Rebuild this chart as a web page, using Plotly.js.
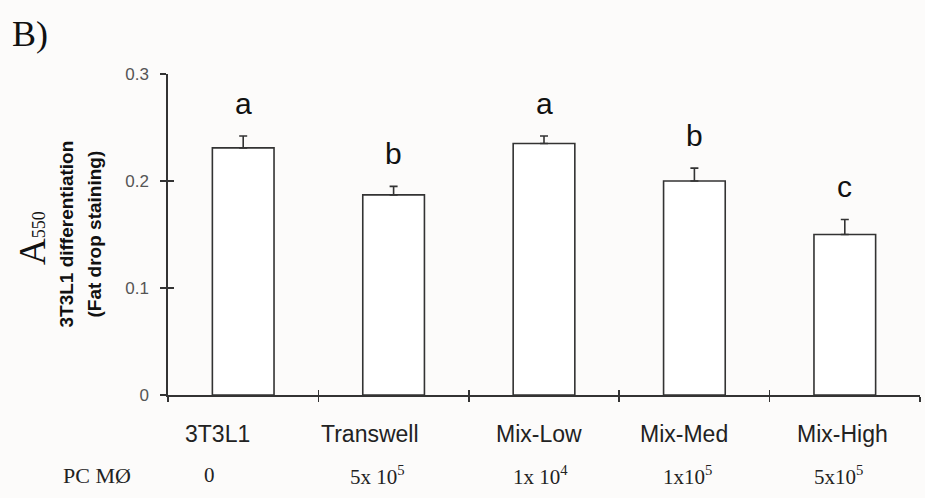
<!DOCTYPE html>
<html>
<head>
<meta charset="utf-8">
<script src="https://cdn.plot.ly/plotly-3.0.1.min.js"></script>
<style>html,body{margin:0;padding:0;background:#fcfbfa;}#chart{width:925px;height:498px;}</style>
</head>
<body>
<div id="chart"></div>
<script>
const categories = ['3T3L1', 'Transwell', 'Mix-Low', 'Mix-Med', 'Mix-High'];
const values = [0.231, 0.187, 0.235, 0.200, 0.150];
const errors = [0.011, 0.008, 0.007, 0.012, 0.014];
const letters = ['a', 'b', 'a', 'b', 'c'];
const pcmo = ['0', '5x 10<sup>5</sup>', '1x 10<sup>4</sup>', '1x10<sup>5</sup>', '5x10<sup>5</sup>'];
const yTicks = [0, 0.1, 0.2, 0.3];

const boundaries = categories.map((c, i) => i - 0.5).concat([categories.length - 0.5]);
// pixel nudges of the hand-placed labels in the original figure
const labelNudge = [-26, -24, -5, -10, -2];
const rowNudge = [-34, -16, -4, -7, -6];

const bars = {
  type: 'bar', x: categories, y: values, width: 0.41,
  marker: {color: '#ffffff', line: {color: '#333333', width: 1.6}},
  error_y: {type: 'data', symmetric: false, array: errors, arrayminus: errors.map(() => 0),
            color: '#333333', thickness: 1.6, width: 4},
  hoverinfo: 'skip', showlegend: false, cliponaxis: false
};
const overlay = {type: 'scatter', x: [], y: [], xaxis: 'x2', yaxis: 'y2', showlegend: false, hoverinfo: 'skip'};

const serif = 'Liberation Serif, Times New Roman, serif';
const sans = 'Liberation Sans, Arial, sans-serif';
const ann = [];
categories.forEach((c, i) => {
  ann.push({x: c, y: values[i] + errors[i], xref: 'x', yref: 'y', text: letters[i], showarrow: false,
            yanchor: 'middle', yshift: 33, font: {family: sans, size: 30, color: '#111'}});
  ann.push({x: c, y: 0, xref: 'x', yref: 'y', text: c, showarrow: false, xanchor: 'center', yanchor: 'middle',
            yshift: -39, xshift: labelNudge[i], font: {family: sans, size: 23, color: '#222'}});
  ann.push({x: c, y: 0, xref: 'x', yref: 'y', text: pcmo[i], showarrow: false, xanchor: 'center', yanchor: 'middle',
            yshift: -80, xshift: rowNudge[i], font: {family: serif, size: 21, color: '#222'}});
});
ann.push({x: -0.0944, y: 0, xref: 'paper', yref: 'y', text: 'PC MØ', showarrow: false, xanchor: 'center',
          yanchor: 'middle', yshift: -80, font: {family: serif, size: 22, color: '#222'}});
ann.push({x: -0.210, y: 1.125, xref: 'paper', yref: 'paper', text: 'B)', showarrow: false, xanchor: 'left', yanchor: 'middle',
          font: {family: serif, size: 36, color: '#111'}});
ann.push({x: -0.181, y: 0.489, xref: 'paper', yref: 'paper', xanchor: 'center', yanchor: 'middle',
          text: 'A<span style="font-size:18px">550</span>', showarrow: false,
          textangle: -90, font: {family: serif, size: 37, color: '#111'}});
ann.push({x: -0.1356, y: 0.5, xref: 'paper', yref: 'paper', xanchor: 'center', yanchor: 'middle',
          text: '<b>3T3L1 differentiation</b>', showarrow: false,
          textangle: -90, font: {family: 'Liberation Sans Narrow, Arial Narrow, Liberation Sans, Arial', size: 19, color: '#111'}});
ann.push({x: -0.0984, y: 0.5, xref: 'paper', yref: 'paper', xanchor: 'center', yanchor: 'middle',
          text: '<b>(Fat drop staining)</b>', showarrow: false,
          textangle: -90, font: {family: 'Liberation Sans Narrow, Arial Narrow, Liberation Sans, Arial', size: 19, color: '#111'}});

const layout = {
  width: 925, height: 498,
  margin: {l: 168, r: 5, t: 74, b: 103},
  paper_bgcolor: '#fcfbfa', plot_bgcolor: '#fcfbfa',
  showlegend: false,
  xaxis: {type: 'category', range: [-0.5, 4.5], tickson: 'boundaries', ticks: 'outside', ticklen: 5,
          tickcolor: '#333', tickwidth: 1.5, showline: true, linecolor: '#333', linewidth: 1.6,
          showgrid: false, zeroline: false, showticklabels: false},
  yaxis: {range: [0, 0.3], tickvals: yTicks, ticks: 'outside', ticklen: 6, tickcolor: '#333', tickwidth: 1.5,
          showline: true, linecolor: '#333', linewidth: 1.6, showgrid: false, zeroline: false,
          ticklabelstandoff: 8, tickfont: {family: sans, size: 17, color: '#555'}},
  xaxis2: {overlaying: 'x', anchor: 'y2', range: [-0.5, 4.5], tickvals: boundaries, ticks: 'inside', ticklen: 5,
           tickcolor: '#333', tickwidth: 1.5, showticklabels: false, showgrid: false, zeroline: false, showline: false},
  yaxis2: {overlaying: 'y', anchor: 'x2', side: 'left', range: [0, 0.3], tickvals: yTicks, ticks: 'inside', ticklen: 6,
           tickcolor: '#333', tickwidth: 1.5, showticklabels: false, showgrid: false, zeroline: false, showline: false},
  annotations: ann
};
Plotly.newPlot('chart', [bars, overlay], layout, {displayModeBar: false, staticPlot: true});
</script>
</body>
</html>
